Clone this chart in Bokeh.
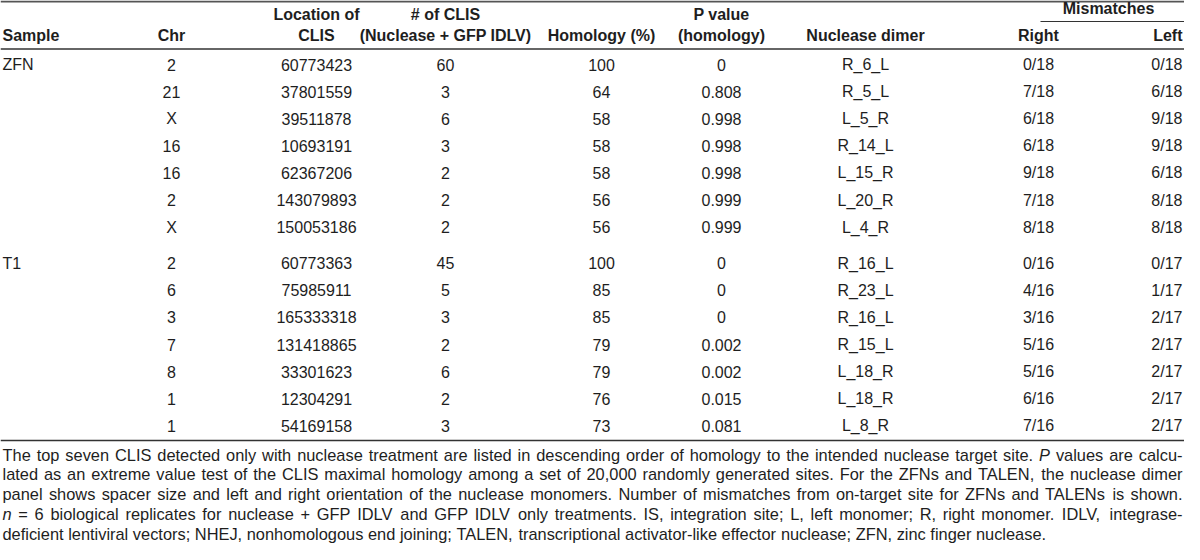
from bokeh.plotting import figure
from bokeh.models import ColumnDataSource, Range1d
from bokeh.embed import file_html
from bokeh.resources import INLINE
from bokeh.core.properties import value

# ---------------- data ----------------
samples = ["ZFN", "T1"]

zfn_chr = ["2", "21", "X", "16", "16", "2", "X"]
zfn_loc = ["60773423", "37801559", "39511878", "10693191", "62367206", "143079893", "150053186"]
zfn_clis = [60, 3, 6, 3, 2, 2, 2]
zfn_hom = [100, 64, 58, 58, 58, 56, 56]
zfn_p = ["0", "0.808", "0.998", "0.998", "0.998", "0.999", "0.999"]
zfn_dimer = ["R_6_L", "R_5_L", "L_5_R", "R_14_L", "L_15_R", "L_20_R", "L_4_R"]
zfn_right = ["0/18", "7/18", "6/18", "6/18", "9/18", "7/18", "8/18"]
zfn_left = ["0/18", "6/18", "9/18", "9/18", "6/18", "8/18", "8/18"]

t1_chr = ["2", "6", "3", "7", "8", "1", "1"]
t1_loc = ["60773363", "75985911", "165333318", "131418865", "33301623", "12304291", "54169158"]
t1_clis = [45, 5, 3, 2, 6, 2, 3]
t1_hom = [100, 85, 85, 79, 79, 76, 73]
t1_p = ["0", "0", "0", "0.002", "0.002", "0.015", "0.081"]
t1_dimer = ["R_16_L", "R_23_L", "R_16_L", "R_15_L", "L_18_R", "L_18_R", "L_8_R"]
t1_right = ["0/16", "4/16", "3/16", "5/16", "5/16", "6/16", "7/16"]
t1_left = ["0/17", "1/17", "2/17", "2/17", "2/17", "2/17", "2/17"]

header_top = ["Location of", "# of CLIS", "P value"]
header_bottom = ["Sample", "Chr", "CLIS", "(Nuclease + GFP IDLV)", "Homology (%)",
                 "(homology)", "Nuclease dimer", "Right", "Left"]
group_header = "Mismatches"

caption_lines = [
    "The top seven CLIS detected only with nuclease treatment are listed in descending order of homology to the intended nuclease target site. *P* values are calcu-",
    "lated as an extreme value test of the CLIS maximal homology among a set of 20,000 randomly generated sites. For the ZFNs and TALEN, the nuclease dimer",
    "panel shows spacer size and left and right orientation of the nuclease monomers. Number of mismatches from on-target site for ZFNs and TALENs is shown.",
    "*n* = 6 biological replicates for nuclease + GFP IDLV and GFP IDLV only treatments. IS, integration site; L, left monomer; R, right monomer. IDLV, integrase-",
    "deficient lentiviral vectors; NHEJ, nonhomologous end joining; TALEN, transcriptional activator-like effector nuclease; ZFN, zinc finger nuclease.",
]

# ---------------- layout ----------------
FONT = "Liberation Sans"
TXT = "#1e1e1e"
RULE = "#333333"
FS = 16

p = figure(width=1184, height=544, x_range=Range1d(8, 1192), y_range=Range1d(552, 8),
           output_backend="svg", toolbar_location=None, x_axis_type=None, y_axis_type=None,
           min_border=0, outline_line_color=None)
p.background_fill_color = "white"
p.border_fill_color = "white"


def draw(xs, ys, texts, align="center", style="normal", size=FS):
    src = ColumnDataSource(dict(x=xs, y=ys, text=texts))
    p.text(x="x", y="y", text="text", source=src, text_font=value(FONT),
           text_font_size=f"{size}px", text_align=align, text_baseline="middle",
           text_font_style=style, text_color=TXT)


# column anchors
X_SAMPLE = 10
X_CHR, X_LOC, X_CLIS, X_HOM, X_P, X_DIM, X_RIGHT, X_LEFT = 179, 324, 453, 609, 729, 873, 1046, 1190

# rules
p.segment(x0=[8], y0=[9], x1=[1192], y1=[9], line_color="#555555", line_width=2)
p.segment(x0=[1048], y0=[29], x1=[1192], y1=[29], line_color=RULE, line_width=1)
p.segment(x0=[8], y0=[56.5], x1=[1192], y1=[56.5], line_color=RULE, line_width=1.3)
p.segment(x0=[8], y0=[448], x1=[1192], y1=[448], line_color=RULE, line_width=1.3)

# headers
draw([1116], [16], [group_header], style="bold")
draw([X_LOC, X_CLIS, X_P], [22] * 3, header_top, style="bold")
draw([X_SAMPLE], [43], [header_bottom[0]], align="left", style="bold")
draw([X_CHR, X_LOC, X_CLIS, X_HOM, X_P, X_DIM, X_RIGHT], [43] * 7, header_bottom[1:8], style="bold")
draw([X_LEFT], [43], [header_bottom[8]], align="right", style="bold")

# body rows
groups = [
    (zfn_chr, zfn_loc, zfn_clis, zfn_hom, zfn_p, zfn_dimer, zfn_right, zfn_left),
    (t1_chr, t1_loc, t1_clis, t1_hom, t1_p, t1_dimer, t1_right, t1_left),
]
ROW0, DY, GAP = 72, 27.1, 9
y = ROW0
for gi, (chr_, loc, clis, hom, pv, dim, rgt, lft) in enumerate(groups):
    ys = [y + DY * i for i in range(len(chr_))]
    draw([X_SAMPLE], [ys[0]], [samples[gi]], align="left")
    centered = [(X_CHR, chr_), (X_LOC, loc), (X_CLIS, [str(v) for v in clis]),
                (X_HOM, [str(v) for v in hom]), (X_P, pv), (X_DIM, dim), (X_RIGHT, rgt)]
    for cx, col in centered:
        draw([cx] * len(col), ys, list(col))
    draw([X_LEFT] * len(lft), ys, list(lft), align="right")
    y = ys[-1] + DY + GAP

# caption (justified, Arial/Liberation metrics)
AW = {' ': 278, '!': 278, '"': 355, '#': 556, '$': 556, '%': 889, '&': 667, "'": 191, '(': 333, ')': 333,
      '*': 389, '+': 584, ',': 278, '-': 333, '.': 278, '/': 278, ':': 278, ';': 278, '<': 584, '=': 584,
      '>': 584, '?': 556, '@': 1015, 'A': 667, 'B': 667, 'C': 722, 'D': 722, 'E': 667, 'F': 611, 'G': 778,
      'H': 722, 'I': 278, 'J': 500, 'K': 667, 'L': 556, 'M': 833, 'N': 722, 'O': 778, 'P': 667, 'Q': 778,
      'R': 722, 'S': 667, 'T': 611, 'U': 722, 'V': 667, 'W': 944, 'X': 667, 'Y': 667, 'Z': 611, '_': 556,
      'a': 556, 'b': 556, 'c': 500, 'd': 556, 'e': 556, 'f': 278, 'g': 556, 'h': 556, 'i': 222, 'j': 222,
      'k': 500, 'l': 222, 'm': 833, 'n': 556, 'o': 556, 'p': 556, 'q': 556, 'r': 333, 's': 500, 't': 278,
      'u': 556, 'v': 500, 'w': 722, 'x': 500, 'y': 500, 'z': 500}
for d in "0123456789":
    AW[d] = 556


def tw(s, size):
    return sum(AW.get(c, 556) for c in s) / 1000.0 * size


CX0, CX1 = 10, 1190
cap_fs = 16.4
for line in caption_lines:
    words = [w.strip("*") for w in line.split(" ")]
    nat = sum(tw(w, cap_fs) for w in words) + tw(" ", cap_fs) * (len(words) - 1)
    if nat > CX1 - CX0:
        cap_fs = cap_fs * (CX1 - CX0) / nat

reg_x, reg_y, reg_t, it_x, it_y, it_t = [], [], [], [], [], []
for li, line in enumerate(caption_lines):
    toks = line.split(" ")
    words = [t.strip("*") for t in toks]
    widths = [tw(w, cap_fs) for w in words]
    if li < len(caption_lines) - 1:
        sp = (CX1 - CX0 - sum(widths)) / (len(words) - 1)
    else:
        sp = tw(" ", cap_fs)
    cx = CX0
    cy = 462 + 19.8 * li
    for t, w, wd in zip(toks, words, widths):
        if t.startswith("*"):
            it_x.append(cx); it_y.append(cy); it_t.append(w)
        else:
            reg_x.append(cx); reg_y.append(cy); reg_t.append(w)
        cx += wd + sp

draw(reg_x, reg_y, reg_t, align="left", size=round(cap_fs, 2))
draw(it_x, it_y, it_t, align="left", style="italic", size=round(cap_fs, 2))

open("out.html", "w").write(file_html(p, INLINE))
